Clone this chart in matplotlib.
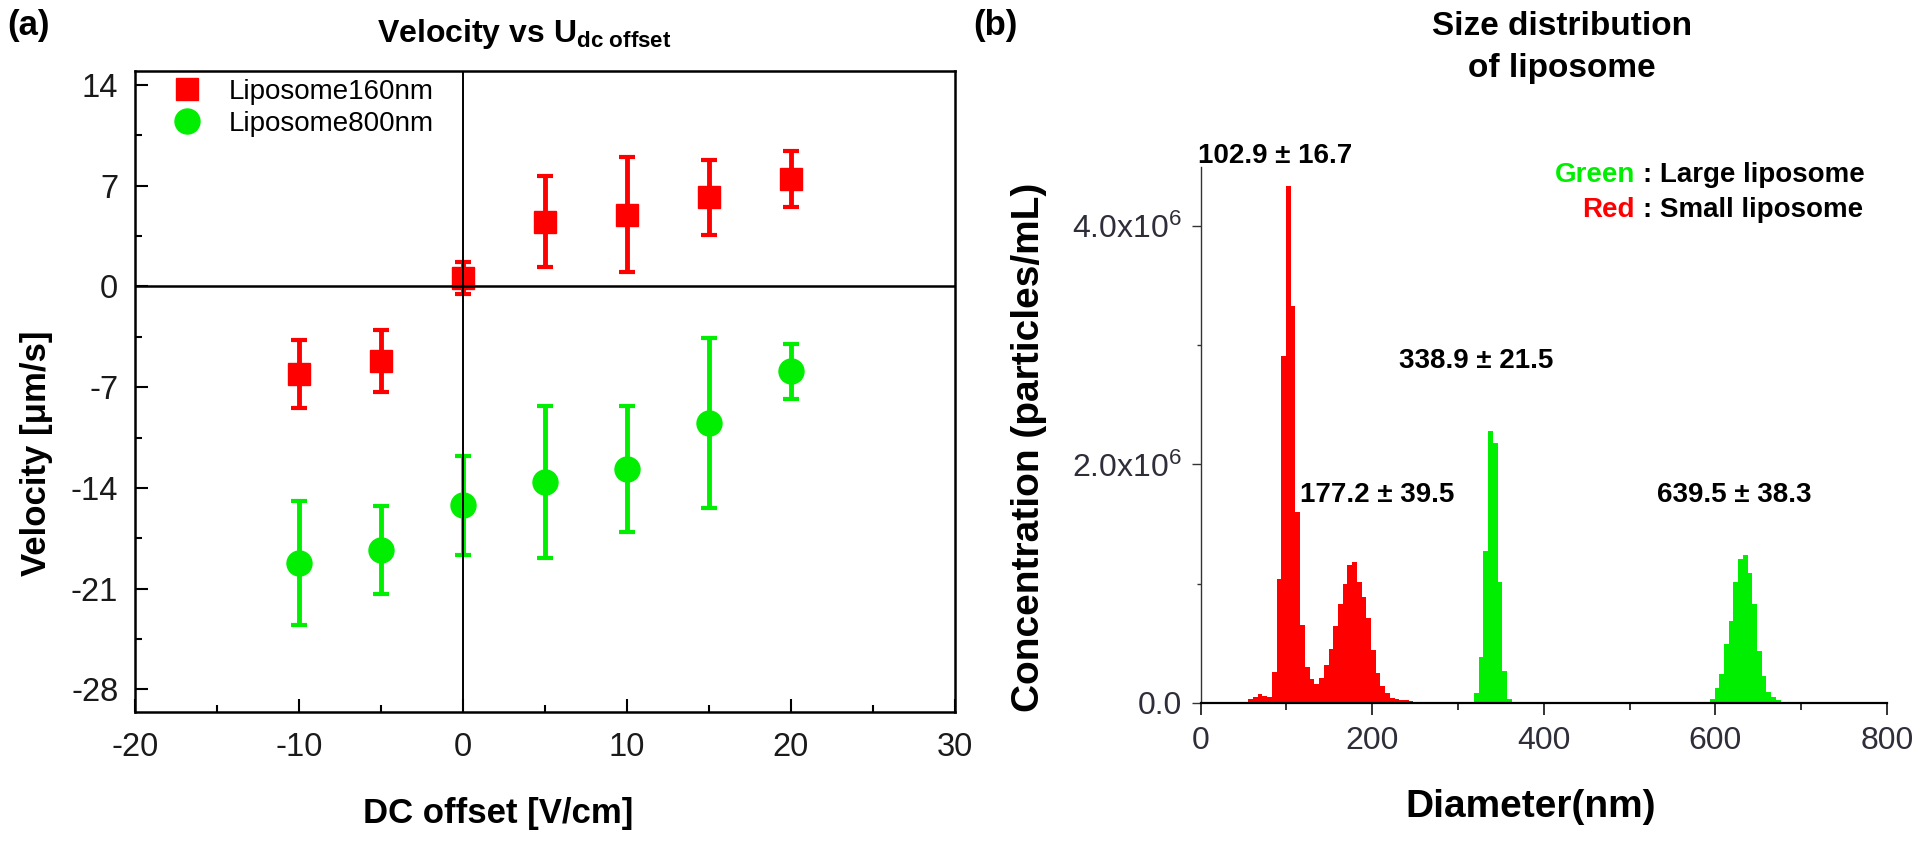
import numpy as np
import matplotlib
matplotlib.use("Agg")
import matplotlib.pyplot as plt
from matplotlib.lines import Line2D
from matplotlib.ticker import MultipleLocator

plt.rcParams['font.family'] = ['Liberation Sans', 'DejaVu Sans']
plt.rcParams['mathtext.fontset'] = 'custom'
plt.rcParams['mathtext.rm'] = 'Liberation Sans'
plt.rcParams['mathtext.bf'] = 'Liberation Sans:bold'
plt.rcParams['mathtext.it'] = 'Liberation Sans:italic'
plt.rcParams['axes.unicode_minus'] = False

RED = '#ff0000'
GREEN = '#00ee00'

# (a) velocity vs DC offset
dc_offset = [-10, -5, 0, 5, 10, 15, 20]
vel_160 = [-6.1, -5.2, 0.6, 4.5, 5.0, 6.2, 7.5]
err_160 = [2.35, 2.15, 1.1, 3.15, 4.0, 2.6, 1.95]
vel_800 = [-19.2, -18.3, -15.2, -13.6, -12.7, -9.5, -5.9]
err_800 = [4.3, 3.05, 3.45, 5.3, 4.4, 5.9, 1.9]

# (b) size distribution (concentration in 1e6 particles/mL per bin)
bin_w = 5.5
red_start = 55.5
red_conc = [0.03, 0.05, 0.07, 0.06, 0.05, 0.26, 1.04, 2.91, 4.34, 3.33, 1.60, 0.65,
            0.30, 0.20, 0.16, 0.21, 0.32, 0.45, 0.64, 0.83, 1.00, 1.16, 1.18, 1.01,
            0.89, 0.71, 0.44, 0.25, 0.14, 0.08, 0.04, 0.03, 0.02, 0.02, 0.015, 0.01]
green1_start = 318.5
green1_conc = [0.08, 0.38, 1.27, 2.28, 2.18, 1.01, 0.27, 0.03]
green2_start = 593.5
green2_conc = [0.03, 0.12, 0.24, 0.49, 0.69, 1.01, 1.21, 1.24, 1.09, 0.83, 0.43,
               0.22, 0.09, 0.05, 0.02]
peak_labels = ["102.9 \u00b1 16.7", "177.2 \u00b1 39.5", "338.9 \u00b1 21.5", "639.5 \u00b1 38.3"]

W, H = 1920, 841


def fx(px):
    return px / W


def fy(py):
    return 1 - py / H


fig = plt.figure(figsize=(19.2, 8.41), dpi=100)

# ---------- panel (a) ----------
ax = fig.add_axes([fx(135), fy(712.3), 820 / W, 641.6 / H])
ax.errorbar(dc_offset, vel_160, yerr=err_160, fmt='s', color=RED, ms=16.5,
            elinewidth=3.5, capsize=5.5, capthick=3, zorder=2)
ax.errorbar(dc_offset, vel_800, yerr=err_800, fmt='o', color=GREEN, ms=18,
            elinewidth=3.5, capsize=5.5, capthick=3, zorder=2)
ax.axhline(0, color='black', lw=1.8, zorder=3)
ax.axvline(0, color='black', lw=1.4, zorder=3)

ax.set_xlim(-20, 30)
ax.set_ylim(-29.6, 15)
ax.set_xticks([-20, -10, 0, 10, 20, 30])
ax.set_yticks([14, 7, 0, -7, -14, -21, -28])
ax.xaxis.set_minor_locator(MultipleLocator(5))
ax.yaxis.set_minor_locator(MultipleLocator(3.5))
ax.tick_params(which='both', direction='in', top=False, right=False, width=1.5,
               labelsize=23.5, labelcolor='#1a1a1a')
ax.tick_params(which='major', length=9.5)
ax.tick_params(which='minor', length=5)
ax.tick_params(axis='y', pad=12)
ax.tick_params(axis='x', pad=14)
for s in ax.spines.values():
    s.set_linewidth(1.8)

handles = [Line2D([], [], marker='s', color=RED, ls='none', ms=16.5),
           Line2D([], [], marker='o', color=GREEN, ls='none', ms=18)]
ax.legend(handles, ['Liposome160nm', 'Liposome800nm'], loc='upper left',
          bbox_to_anchor=(fx(170), fy(79)), bbox_transform=fig.transFigure,
          frameon=False, fontsize=20, handlelength=1.2, handletextpad=0.9,
          labelspacing=0.2, borderpad=0, borderaxespad=0)

fig.text(fx(7), fy(35), '(a)', fontsize=25, fontweight='bold', va='baseline')
fig.text(fx(377), fy(42), r'Velocity vs U$_{\mathbf{dc\ offset}}$', fontsize=23,
         fontweight='bold', va='baseline')
fig.text(fx(36.7), fy(453.5), 'Velocity [\u03bcm/s]', rotation=90, ha='center',
         va='center', fontsize=25, fontweight='bold')
fig.text(fx(363), fy(823), 'DC offset [V/cm]', ha='left', va='baseline',
         fontsize=25, fontweight='bold')

# ---------- panel (b) ----------
bx = fig.add_axes([fx(1200.7), fy(702.7), 686.3 / W, 536 / H])
for start, conc, col in [(red_start, red_conc, RED),
                         (green1_start, green1_conc, GREEN),
                         (green2_start, green2_conc, GREEN)]:
    conc = np.array(conc) * 1e6
    edges = start + bin_w * np.arange(len(conc) + 1)
    bx.stairs(conc, edges, fill=True, color=col, linewidth=0)

bx.set_xlim(0, 800)
bx.set_ylim(0, 4.5e6)
bx.set_xticks([0, 200, 400, 600, 800])
bx.set_yticks([0, 2e6, 4e6], ['0.0', '2.0x10$^6$', '4.0x10$^6$'])
bx.xaxis.set_minor_locator(MultipleLocator(100))
bx.yaxis.set_minor_locator(MultipleLocator(1e6))
bx.spines['top'].set_visible(False)
bx.spines['right'].set_visible(False)
bx.spines['left'].set_linewidth(1.0)
bx.spines['left'].set_color('#333333')
bx.spines['bottom'].set_linewidth(1.6)
bx.spines['bottom'].set_zorder(3)
bx.tick_params(which='both', direction='out', labelsize=23, labelcolor='#2e2e3a',
               color='#333333')
bx.tick_params(axis='y', which='major', length=6.5, width=1.0, pad=7)
bx.tick_params(axis='y', which='minor', length=3, width=1.0)
bx.tick_params(axis='x', which='major', length=8.5, width=1.4, pad=8)
bx.tick_params(axis='x', which='minor', length=5, width=1.4)

fig.text(fx(973), fy(35), '(b)', fontsize=25, fontweight='bold', va='baseline')
fig.text(fx(1562), fy(35), 'Size distribution', ha='center', va='baseline',
         fontsize=24, fontweight='bold')
fig.text(fx(1562), fy(77), 'of liposome', ha='center', va='baseline',
         fontsize=24, fontweight='bold')
fig.text(fx(1029), fy(447.5), 'Concentration (particles/mL)', rotation=90,
         ha='center', va='center', fontsize=28, fontweight='bold')
fig.text(fx(1405), fy(817), 'Diameter(nm)', ha='left', va='baseline',
         fontsize=28, fontweight='bold')

label_pos = [(1198, 163, 'left'), (1300, 502, 'left'), (1553, 368, 'right'),
             (1657, 502, 'left')]
for txt, (px, py, ha) in zip(peak_labels, label_pos):
    fig.text(fx(px), fy(py), txt, ha=ha, va='baseline', fontsize=20,
             fontweight='bold')

fig.text(fx(1635), fy(182), 'Green', color=GREEN, ha='right', va='baseline',
         fontsize=20, fontweight='bold')
fig.text(fx(1643), fy(182), ': Large liposome', ha='left', va='baseline',
         fontsize=20, fontweight='bold')
fig.text(fx(1635), fy(217), 'Red', color=RED, ha='right', va='baseline',
         fontsize=20, fontweight='bold')
fig.text(fx(1643), fy(217), ': Small liposome', ha='left', va='baseline',
         fontsize=20, fontweight='bold')

fig.savefig('out.png', dpi=100)
